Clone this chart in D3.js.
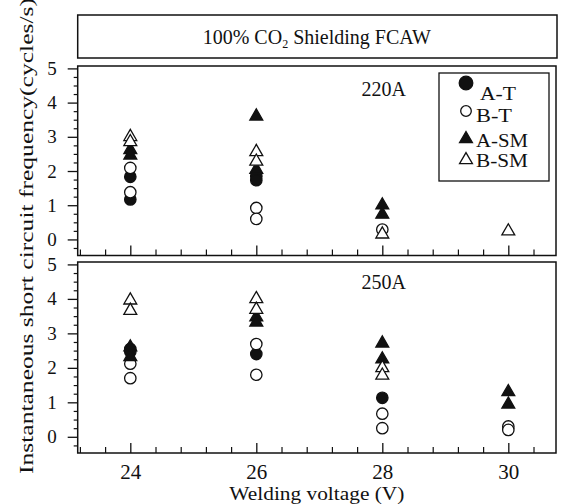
<!DOCTYPE html>
<html><head><meta charset="utf-8">
<script src="https://cdn.jsdelivr.net/npm/d3@7"></script>
<style>body{margin:0;background:#fff}svg{display:block}text{font-family:"Liberation Serif","DejaVu Serif",serif;fill:#111}</style>
</head><body><svg id="c" width="561" height="504"></svg>
<script>
// ---- data ----
const voltages = [24, 26, 28, 30];
const xTickLabels = ["24", "26", "28", "30"];
const yTickLabels = ["0", "1", "2", "3", "4", "5"];
const seriesNames = ["A-T", "B-T", "A-SM", "B-SM"];
const panelLabels = ["220A", "250A"];
// 220A panel: [voltage, value]
const p220_AT  = [[24, 1.83], [24, 1.17], [26, 1.85], [26, 1.73]];
const p220_BT  = [[24, 2.09], [24, 1.38], [26, 0.92], [26, 0.60], [28, 0.29]];
const p220_ASM = [[24, 2.62], [24, 2.46], [26, 3.60], [26, 2.04], [28, 1.00], [28, 0.73]];
const p220_BSM = [[24, 3.00], [24, 2.85], [26, 2.56], [26, 2.28], [28, 0.15], [30, 0.24]];
// 250A panel
const p250_AT  = [[24, 2.55], [24, 2.47], [26, 2.40], [28, 1.13]];
const p250_BT  = [[24, 2.12], [24, 1.70], [26, 2.69], [26, 1.80], [28, 0.67], [28, 0.25], [30, 0.30], [30, 0.20]];
const p250_ASM = [[24, 2.60], [24, 2.32], [26, 3.47], [26, 3.32], [28, 2.71], [28, 2.25], [30, 1.30], [30, 0.94]];
const p250_BSM = [[24, 3.96], [24, 3.66], [26, 4.00], [26, 3.69], [28, 2.00], [28, 1.78]];

const svg = d3.select("#c");
const L = 77.7, R = 556;
const x = d3.scaleLinear().domain([23.165, 30.757]).range([L, R]);
const panels = [
  {top: 66, bottom: 255.5, label: panelLabels[0], labelY: 96, data: [p220_AT, p220_BT, p220_ASM, p220_BSM]},
  {top: 262, bottom: 453, label: panelLabels[1], labelY: 288.5, data: [p250_AT, p250_BT, p250_ASM, p250_BSM]}
];
const styles = [
  {shape: "circle", fill: "#111"},
  {shape: "circle", fill: "#fff"},
  {shape: "triangle", fill: "#111"},
  {shape: "triangle", fill: "#fff"}
];
const tri = d3.symbol().type(d3.symbolTriangle).size(72);

function drawMark(g, s, cx, cy, r) {
  if (s.shape === "circle") {
    g.append("circle").attr("cx", cx).attr("cy", cy).attr("r", r || 5.7)
      .attr("fill", s.fill).attr("stroke", "#111").attr("stroke-width", 1.3);
  } else {
    g.append("path").attr("d", tri()).attr("transform", `translate(${cx},${cy})`)
      .attr("fill", s.fill).attr("stroke", "#111").attr("stroke-width", 1.3);
  }
}

const xMinor = d3.range(0, 19).map(i => 23.2 + i * 0.4).filter(v => !voltages.some(m => Math.abs(m - v) < 1e-6));
const yMinor = d3.range(-1, 21).map(i => i * 0.25).filter(v => Math.abs(v - Math.round(v)) > 1e-6);

panels.forEach((p, pi) => {
  const y = d3.scaleLinear().domain([-0.47, 5.07]).range([p.bottom, p.top]);
  const g = svg.append("g");
  g.append("rect").attr("x", L).attr("y", p.top).attr("width", R - L).attr("height", p.bottom - p.top)
    .attr("fill", "none").attr("stroke", "#111").attr("stroke-width", 1.5);
  const yMajor = d3.axisLeft(y).tickValues(yTickLabels.map(Number)).tickSize(10).tickPadding(11).tickFormat((d, i) => yTickLabels[i]);
  const ya = g.append("g").attr("transform", `translate(${L},0)`).call(yMajor);
  ya.select(".domain").remove();
  ya.selectAll("line").attr("stroke", "#111").attr("stroke-width", 1.3);
  ya.selectAll("text").style("font-family", '"Liberation Serif",serif').style("font-size", "19px").attr("fill", "#111");
  const yMin = g.append("g").attr("transform", `translate(${L},0)`).call(d3.axisLeft(y).tickValues(yMinor).tickSize(4).tickFormat(""));
  yMin.select(".domain").remove();
  yMin.selectAll("line").attr("stroke", "#111").attr("stroke-width", 1.2);
  const xa = g.append("g").attr("transform", `translate(0,${p.bottom})`)
    .call(d3.axisTop(x).tickValues(voltages).tickSize(10).tickFormat(""));
  xa.select(".domain").remove();
  xa.selectAll("line").attr("stroke", "#111").attr("stroke-width", 1.3);
  const xm = g.append("g").attr("transform", `translate(0,${p.bottom})`)
    .call(d3.axisTop(x).tickValues(xMinor).tickSize(6).tickFormat(""));
  xm.select(".domain").remove();
  xm.selectAll("line").attr("stroke", "#111").attr("stroke-width", 1.2);
  g.append("text").attr("x", 361.5).attr("y", p.labelY).style("font-size", "20px").text(p.label);
  p.data.forEach((arr, si) => {
    arr.forEach(d => drawMark(g, styles[si], x(d[0]), y(d[1])));
  });
});

const xl = svg.append("g").attr("transform", `translate(0,453)`)
  .call(d3.axisBottom(x).tickValues(voltages).tickSize(0).tickPadding(11).tickFormat((d, i) => xTickLabels[i]));
xl.select(".domain").remove();
xl.selectAll("text").style("font-family", '"Liberation Serif",serif').style("font-size", "21px").attr("fill", "#111");

svg.append("text").attr("x", (L + R) / 2).attr("y", 500).attr("text-anchor", "middle")
  .attr("textLength", 175).attr("lengthAdjust", "spacingAndGlyphs")
  .style("font-size", "19px").text("Welding voltage (V)");

svg.append("text").attr("transform", "translate(33,236) rotate(-90)").attr("text-anchor", "middle")
  .attr("textLength", 476).attr("lengthAdjust", "spacingAndGlyphs")
  .style("font-size", "19px").text("Instantaneous short circuit frequency(cycles/s)");

svg.append("rect").attr("x", L).attr("y", 15).attr("width", R - L + 1).attr("height", 43)
  .attr("fill", "none").attr("stroke", "#111").attr("stroke-width", 1.5);
const t = svg.append("text").attr("x", (L + R) / 2).attr("y", 44).attr("text-anchor", "middle").style("font-size", "20px");
t.append("tspan").text("100% CO");
t.append("tspan").attr("dy", 4).style("font-size", "12px").text("2");
t.append("tspan").attr("dy", -4).text(" Shielding FCAW");

const lg = svg.append("g");
lg.append("rect").attr("x", 439).attr("y", 73).attr("width", 110).attr("height", 108)
  .attr("fill", "#fff").attr("stroke", "#111").attr("stroke-width", 1.3);
const legY = [83, 111, 139, 160];
const legTextY = [99.5, 121.5, 146.5, 166.5];
const legTextX = [480, 476, 476, 476];
seriesNames.forEach((n, i) => {
  drawMark(lg, styles[i], 466, legY[i], i === 0 ? 6.8 : 5.3);
  lg.append("text").attr("x", legTextX[i]).attr("y", legTextY[i]).style("font-size", "18px").attr("textLength", i < 2 ? 36 : 52).attr("lengthAdjust", "spacingAndGlyphs").text(n);
});
</script></body></html>
